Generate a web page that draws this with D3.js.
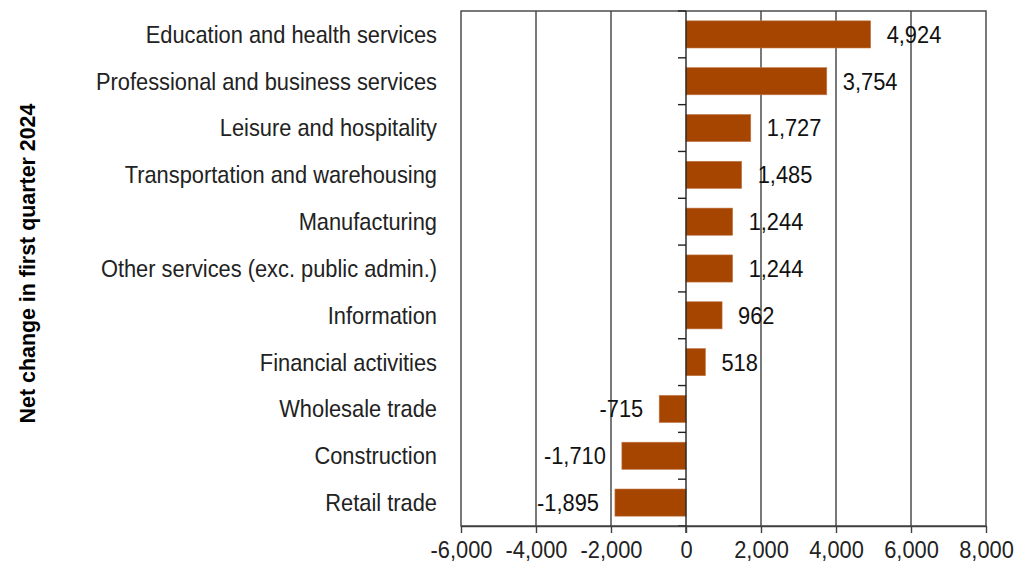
<!DOCTYPE html>
<html>
<head>
<meta charset="utf-8">
<script src="https://cdn.jsdelivr.net/npm/d3@7"></script>
<style>
  html, body { margin: 0; padding: 0; background: #fff; }
  svg text { font-family: "Liberation Sans", Arial, sans-serif; }
</style>
</head>
<body>
<svg id="chart" width="1015" height="572"></svg>
<script>
const categories = [
  "Education and health services",
  "Professional and business services",
  "Leisure and hospitality",
  "Transportation and warehousing",
  "Manufacturing",
  "Other services (exc. public admin.)",
  "Information",
  "Financial activities",
  "Wholesale trade",
  "Construction",
  "Retail trade"
];
const values = [4924, 3754, 1727, 1485, 1244, 1244, 962, 518, -715, -1710, -1895];
const xTicks = [-6000, -4000, -2000, 0, 2000, 4000, 6000, 8000];
const yTitle = "Net change in first quarter 2024";

(function () {
const svg = d3.select("#chart");
const pLeft = 461, pRight = 986, pTop = 11, pBottom = 526;
const gridColor = "#404040";
const FS = 24, SX = 0.91;

const x = d3.scaleLinear().domain([-6000, 8000]).range([pLeft, pRight]);
const y = d3.scaleBand().domain(categories).range([pTop, pBottom]).paddingInner(0.42).paddingOuter(0.21);
const yb = d3.scaleBand().domain(categories).range([pTop, pBottom]);
const fmt = v => d3.format(",")(v).replace("\u2212", "-");

// gridlines
svg.append("g").selectAll("line").data(xTicks.filter(d => d !== 0 && d !== -6000 && d !== 8000)).join("line")
  .attr("x1", d => x(d)).attr("x2", d => x(d)).attr("y1", pTop).attr("y2", pBottom)
  .attr("stroke", gridColor).attr("stroke-width", 1.4);

// frame
svg.append("rect").attr("x", pLeft).attr("y", pTop).attr("width", pRight - pLeft).attr("height", pBottom - pTop)
  .attr("fill", "none").attr("stroke", gridColor).attr("stroke-width", 1.4);

// bars
svg.append("g").selectAll("rect").data(values).join("rect")
  .attr("x", d => x(Math.min(0, d)))
  .attr("width", d => Math.abs(x(d) - x(0)))
  .attr("y", (d, i) => y(categories[i]))
  .attr("height", y.bandwidth())
  .attr("fill", "#a54500")
  .attr("stroke", "#c27a4c").attr("stroke-width", 0.6);

// zero axis line
svg.append("line").attr("x1", x(0)).attr("x2", x(0)).attr("y1", pTop).attr("y2", pBottom + 7)
  .attr("stroke", "#222").attr("stroke-width", 1.4);

// category boundary ticks on zero axis
const bounds = categories.map(c => yb(c)).concat([pBottom]);
svg.append("g").selectAll("line").data(bounds).join("line")
  .attr("x1", x(0) - 8).attr("x2", x(0)).attr("y1", d => d).attr("y2", d => d)
  .attr("stroke", "#222").attr("stroke-width", 1.4);

// bottom axis
const xAxis = d3.axisBottom(x).tickValues(xTicks).tickFormat(fmt).tickSizeInner(7).tickSizeOuter(0).tickPadding(8);
const gx = svg.append("g").attr("transform", `translate(0,${pBottom})`).call(xAxis);
gx.select(".domain").attr("stroke", gridColor).attr("stroke-width", 1.4);
gx.selectAll(".tick line").attr("stroke", gridColor).attr("stroke-width", 1.4);
gx.selectAll(".tick text").attr("font-size", FS).attr("fill", "#222")
  .attr("font-family", "'Liberation Sans', Arial, sans-serif")
  .attr("dy", "0.71em")
  .attr("transform", `translate(0,15) scale(${SX},1)`).attr("y", 0);

// category labels
svg.append("g").selectAll("text").data(categories).join("text")
  .attr("transform", d => `translate(${pLeft - 24},${yb(d) + yb.bandwidth() / 2}) scale(${SX},1)`)
  .attr("dy", "0.35em")
  .attr("text-anchor", "end")
  .attr("font-size", FS)
  .attr("fill", "#222")
  .text(d => d);

// value labels
svg.append("g").selectAll("text").data(values).join("text")
  .attr("transform", (d, i) => `translate(${d >= 0 ? x(d) + 16 : x(d) - 16},${yb(categories[i]) + yb.bandwidth() / 2}) scale(${SX},1)`)
  .attr("dy", "0.35em")
  .attr("text-anchor", d => d >= 0 ? "start" : "end")
  .attr("font-size", FS)
  .attr("fill", "#111")
  .text(d => fmt(d));

// y title
svg.append("text")
  .attr("transform", `translate(35,${(pTop + pBottom) / 2 - 5}) rotate(-90)`)
  .attr("text-anchor", "middle")
  .attr("font-size", 21.4)
  .attr("font-weight", "bold")
  .attr("fill", "#000")
  .text(yTitle);
})();
</script>
</body>
</html>
